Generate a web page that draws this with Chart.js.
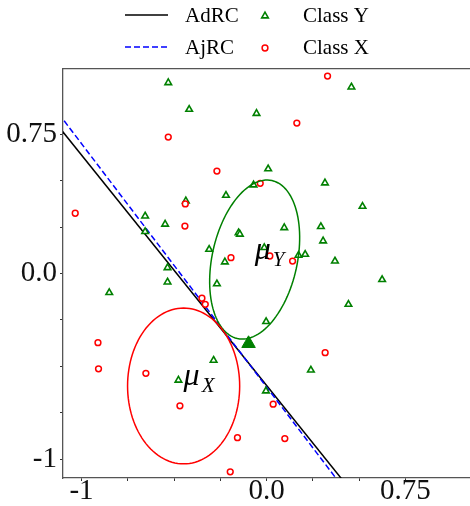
<!DOCTYPE html>
<html>
<head>
<meta charset="utf-8">
<script src="https://cdn.jsdelivr.net/npm/chart.js@4.4.7/dist/chart.umd.min.js"></script>
<style>
  html, body { margin: 0; padding: 0; background: #ffffff; }
  #wrap { width: 470px; height: 506px; }
</style>
</head>
<body>
<div id="wrap"><canvas id="rcChart" width="470" height="506"></canvas></div>
<script>
// ticks
const xTickValues = [-1, -0.75, -0.5, -0.25, 0, 0.25, 0.5, 0.75];
const yTickValues = [-1, -0.75, -0.5, -0.25, 0, 0.25, 0.5, 0.75];
const xTickLabels = { "-1": "-1", "0": "0.0", "0.75": "0.75" };
const yTickLabels = { "-1": "-1", "0": "0.0", "0.75": "0.75" };

// decision lines
const adrcX = [-1.3, 0.5];
const adrcY = [1.009, -1.221];
const ajrcX = [-1.3, 0.5];
const ajrcY = [1.091, -1.264];

// Class Y samples
const classYx = [-0.656, -0.656, -0.850, -0.531, -0.418, -0.054, 0.009, -0.070, -0.219, -0.436,
  0.459, 0.316, 0.519, -0.548, -0.151, -0.144, 0.096, -0.310, -0.012, 0.173,
  0.209, -0.225, -0.535, -0.268, -0.535, -0.002, -0.286, -0.476, -0.003, 0.240,
  0.294, 0.306, 0.370, 0.625, 0.443];
const classYy = [0.309, 0.225, -0.103, 1.026, 0.883, 0.861, 0.563, 0.476, 0.420, 0.390,
  1.003, 0.487, 0.361, 0.265, 0.219, 0.211, 0.246, 0.130, 0.139, 0.098,
  0.103, 0.062, 0.031, -0.056, -0.046, -0.259, -0.467, -0.574, -0.632, -0.520,
  0.252, 0.175, 0.067, -0.033, -0.166];

// Class X samples
const classXx = [-1.034, -0.911, -0.908, -0.652, 0.164, -0.531, -0.268, -0.034, -0.439, 0.330,
  -0.441, -0.192, 0.018, 0.141, -0.349, -0.331, 0.317, -0.468, 0.036, -0.157,
  0.099, -0.196];
const classXy = [0.324, -0.372, -0.513, -0.537, 0.809, 0.734, 0.551, 0.485, 0.374, 1.062,
  0.255, 0.085, 0.094, 0.067, -0.133, -0.166, -0.426, -0.712, -0.703, -0.883,
  -0.888, -1.067];

// highlighted point
const markX = [-0.097];
const markY = [-0.377];

// class ellipses: [centre x, centre y, semi-axis along x', semi-axis along y', rotation deg]
const ellipseY = [-0.064, 0.075, 0.23, 0.435, -12.4];
const ellipseX = [-0.448, -0.605, 0.303, 0.419, 0];
const meanLabels = ["Y", "X"];

const serif = "'Liberation Serif', 'DejaVu Serif', serif";

function toPoints(xs, ys) {
  return xs.map((x, i) => ({ x: x, y: ys[i] }));
}

function pinTicks(values) {
  return (scale) => {
    scale.ticks = values.map((v) => ({ value: v }));
  };
}

function ellipsePath(ctx, chart, e) {
  const sx = chart.scales.x;
  const sy = chart.scales.y;
  const rot = (e[4] * Math.PI) / 180;
  ctx.beginPath();
  for (let k = 0; k <= 120; k += 1) {
    const t = (k / 120) * Math.PI * 2;
    const u = e[2] * Math.cos(t);
    const v = e[3] * Math.sin(t);
    const px = sx.getPixelForValue(e[0] + u * Math.cos(rot) - v * Math.sin(rot));
    const py = sy.getPixelForValue(e[1] + u * Math.sin(rot) + v * Math.cos(rot));
    if (k === 0) {
      ctx.moveTo(px, py);
    } else {
      ctx.lineTo(px, py);
    }
  }
  ctx.closePath();
}

const ellipsePlugin = {
  id: "classEllipses",
  afterDatasetsDraw(chart) {
    const ctx = chart.ctx;
    const area = chart.chartArea;
    ctx.save();
    ctx.beginPath();
    ctx.rect(area.left, area.top, area.right - area.left, area.bottom - area.top);
    ctx.clip();
    [[ellipseY, "#008000", meanLabels[0]], [ellipseX, "#ff0000", meanLabels[1]]].forEach(([e, color, name]) => {
      ctx.strokeStyle = color;
      ctx.lineWidth = 1.5;
      ellipsePath(ctx, chart, e);
      ctx.stroke();

      // mean label, left edge at the class mean
      const px = chart.scales.x.getPixelForValue(e[0]);
      const py = chart.scales.y.getPixelForValue(e[1]);
      ctx.fillStyle = "#000000";
      ctx.textAlign = "left";
      ctx.textBaseline = "alphabetic";
      ctx.font = "italic 32px " + serif;
      ctx.fillText("\u03bc", px, py - 1);
      const w = ctx.measureText("\u03bc").width;
      ctx.font = "italic 21px " + serif;
      ctx.fillText(name, px + w + 2, py + 6);
    });
    ctx.restore();
  },
};

const legendPlugin = {
  id: "twoColumnLegend",
  afterDraw(chart) {
    const ctx = chart.ctx;
    const ds = chart.data.datasets;
    const rows = [15, 47];
    ctx.save();

    [ds[0], ds[1]].forEach((d, i) => {
      const y = rows[i];
      ctx.strokeStyle = d.borderColor;
      ctx.lineWidth = d.borderWidth;
      ctx.setLineDash(d.borderDash || []);
      ctx.beginPath();
      ctx.moveTo(125, y);
      ctx.lineTo(168, y);
      ctx.stroke();
      ctx.setLineDash([]);
    });

    [ds[2], ds[3]].forEach((d, i) => {
      const y = rows[i];
      ctx.strokeStyle = d.borderColor;
      ctx.fillStyle = d.backgroundColor;
      ctx.lineWidth = d.borderWidth;
      Chart.helpers.drawPoint(ctx, {
        pointStyle: d.pointStyle,
        radius: d.pointRadius,
        borderWidth: d.borderWidth,
        rotation: 0,
      }, 265, y + 1);
    });

    ctx.font = "21px " + serif;
    ctx.textAlign = "left";
    ctx.textBaseline = "middle";
    ctx.fillStyle = "#000000";
    ctx.fillText(ds[0].label, 185, rows[0] + 1);
    ctx.fillText(ds[1].label, 185, rows[1] + 1);
    ctx.fillText(ds[2].label, 303, rows[0] + 1);
    ctx.fillText(ds[3].label, 303, rows[1] + 1);
    ctx.restore();
  },
};

const chart = new Chart(document.getElementById("rcChart"), {
  type: "scatter",
  data: {
    datasets: [
      {
        label: "AdRC",
        type: "line",
        data: toPoints(adrcX, adrcY),
        borderColor: "#000000",
        borderWidth: 1.5,
        pointRadius: 0,
        fill: false,
        order: 4,
      },
      {
        label: "AjRC",
        type: "line",
        data: toPoints(ajrcX, ajrcY),
        borderColor: "#0000ff",
        borderWidth: 1.5,
        borderDash: [6, 3],
        pointRadius: 0,
        fill: false,
        order: 3,
      },
      {
        label: "Class Y",
        data: toPoints(classYx, classYy),
        pointStyle: "triangle",
        pointRadius: 3.8,
        borderWidth: 1.6,
        borderColor: "#008000",
        backgroundColor: "#ffffff",
        order: 2,
      },
      {
        label: "Class X",
        data: toPoints(classXx, classXy),
        pointStyle: "circle",
        pointRadius: 2.9,
        borderWidth: 1.5,
        borderColor: "#ff0000",
        backgroundColor: "#ffffff",
        order: 1,
      },
      {
        label: "mark",
        data: toPoints(markX, markY),
        pointStyle: "triangle",
        pointRadius: 7.8,
        borderWidth: 1,
        borderColor: "#008000",
        backgroundColor: "#008000",
        order: 0,
      },
    ],
  },
  options: {
    responsive: false,
    animation: false,
    layout: {
      autoPadding: false,
      padding: { top: 69, right: 0, left: 0, bottom: 0 },
    },
    plugins: {
      legend: { display: false },
      tooltip: { enabled: false },
    },
    scales: {
      x: {
        type: "linear",
        min: -1.1,
        max: 1.1,
        afterBuildTicks: pinTicks(xTickValues),
        afterFit(scale) {
          scale.height = 28;
          scale.paddingLeft = 0;
          scale.paddingRight = 0;
        },
        border: { display: true, color: "#555555", width: 1.3 },
        grid: { display: true, drawOnChartArea: false, drawTicks: true, tickLength: 3, color: "#333333" },
        ticks: {
          color: "#111111",
          font: { family: serif, size: 29 },
          padding: -7,
          maxRotation: 0,
          autoSkip: false,
          callback: (v) => xTickLabels[String(v)] || "",
        },
      },
      xTop: {
        type: "linear",
        position: "top",
        min: -1.1,
        max: 1.1,
        afterFit(scale) {
          scale.height = 0;
          scale.paddingLeft = 0;
          scale.paddingRight = 0;
        },
        border: { display: true, color: "#555555", width: 1.3 },
        grid: { display: false, drawTicks: false },
        ticks: { display: false },
      },
      y: {
        type: "linear",
        min: -1.1,
        max: 1.1,
        afterBuildTicks: pinTicks(yTickValues),
        afterFit(scale) { scale.width = 63; },
        border: { display: true, color: "#555555", width: 1.3 },
        grid: { display: true, drawOnChartArea: false, drawTicks: true, tickLength: 3, color: "#333333" },
        ticks: {
          color: "#111111",
          font: { family: serif, size: 29 },
          padding: 3,
          autoSkip: false,
          callback: (v) => yTickLabels[String(v)] || "",
        },
      },
    },
  },
  plugins: [ellipsePlugin, legendPlugin],
});
</script>
</body>
</html>
